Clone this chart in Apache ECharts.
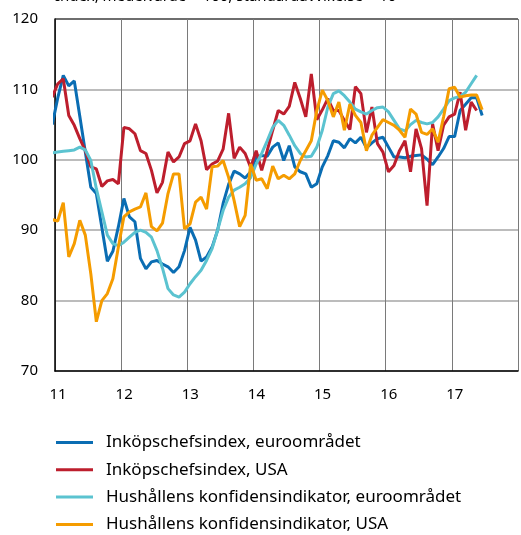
<!DOCTYPE html>
<html>
<head>
<meta charset="utf-8">
<script src="https://cdn.jsdelivr.net/npm/echarts@6/dist/echarts.min.js"></script>
<style>
  html, body { margin: 0; padding: 0; background: #fff; }
  #chart { width: 521px; height: 535px; }
</style>
</head>
<body>
<div id="chart"></div>
<script>
// månadsdata, första värdet = dec 2010
var startYear = 2010, startMonth = 11;
var yearTicks = ['11', '12', '13', '14', '15', '16', '17'];

var seriesNames = [
  'Inköpschefsindex, euroområdet',
  'Inköpschefsindex, USA',
  'Hushållens konfidensindikator, euroområdet',
  'Hushållens konfidensindikator, USA'
];
var colors = ['#0a6db3', '#bd1e2d', '#5bc3d0', '#f59c00'];

var pmiEuro = [105.0, 108.8, 112.0, 110.5, 111.2, 106.2, 101.1, 96.1, 95.2, 90.4, 85.6, 87.0, 90.5,
  94.5, 91.9, 91.2, 86.0, 84.5, 85.5, 85.7, 85.2, 84.8, 84.0, 84.8, 87.1,
  90.4, 88.6, 85.6, 86.2, 87.6, 90.0, 93.8, 96.5, 98.4, 98.0, 97.4, 98.3,
  100.4, 100.6, 100.5, 101.8, 102.4, 99.9, 102.0, 99.0, 98.3, 98.0, 96.1, 96.6,
  99.0, 100.6, 102.7, 102.5, 101.7, 103.0, 102.4, 103.2, 101.7, 102.4, 103.0, 103.2,
  101.8, 100.4, 100.4, 100.3, 100.5, 100.6, 100.7, 100.1, 99.3, 100.4, 101.6, 103.3,
  103.3, 107.0, 107.9, 108.8, 108.8, 106.3];

var pmiUsa = [108.9, 110.8, 111.5, 106.3, 104.9, 103.0, 101.3, 99.0, 98.7, 96.2, 97.0, 97.2, 96.6,
  104.6, 104.4, 103.7, 101.3, 100.9, 98.5, 95.3, 96.8, 101.1, 99.7, 100.4, 102.3,
  102.7, 105.1, 102.7, 98.6, 99.4, 99.8, 101.5, 106.6, 100.2, 101.8, 100.9, 98.9,
  101.3, 98.5, 101.3, 104.2, 107.0, 106.5, 107.6, 111.0, 108.7, 106.1, 112.2, 105.7,
  107.1, 108.7, 107.0, 107.0, 105.6, 104.3, 110.4, 109.4, 103.9, 107.5, 102.3, 101.1,
  98.3, 99.2, 101.3, 102.7, 98.3, 104.4, 101.6, 93.5, 105.1, 101.3, 104.9, 106.1,
  106.5, 109.6, 104.2, 108.2, 107.0];

var konfEuro = [101.0, 101.1, 101.2, 101.3, 101.4, 101.8, 101.4, 99.9, 95.9, 92.6, 89.3, 88.1, 87.8,
  88.3, 89.0, 89.7, 90.0, 89.7, 89.0, 87.1, 84.6, 81.7, 80.8, 80.5, 81.2,
  82.4, 83.4, 84.3, 85.7, 87.4, 90.0, 92.8, 94.7, 95.7, 96.1, 96.6, 97.5,
  99.4, 100.9, 102.7, 104.6, 105.6, 104.9, 103.5, 102.0, 100.9, 100.4, 100.5, 101.8,
  104.2, 107.5, 109.4, 109.8, 109.1, 108.2, 107.2, 106.8, 106.5, 107.0, 107.4, 107.5,
  106.8, 105.6, 104.4, 104.1, 105.0, 105.6, 105.3, 105.1, 105.3, 106.1, 107.2, 108.4,
  108.8, 109.0, 109.6, 110.8, 112.0];

var konfUsa = [91.5, 91.3, 93.9, 86.2, 88.1, 91.4, 89.3, 83.8, 77.0, 80.0, 81.0, 83.1, 87.6,
  91.9, 92.6, 93.0, 93.3, 95.3, 90.5, 89.9, 91.0, 95.2, 98.0, 98.0, 90.2,
  90.9, 94.0, 94.7, 93.0, 99.0, 99.1, 99.9, 97.5, 94.2, 90.5, 92.1, 99.4,
  97.1, 97.3, 95.9, 99.1, 97.3, 97.8, 97.3, 98.0, 99.9, 101.3, 102.7, 107.0,
  109.9, 108.4, 106.1, 108.2, 104.2, 107.9, 106.3, 105.3, 101.3, 103.5, 104.6, 105.7,
  105.3, 104.9, 104.2, 103.2, 107.2, 106.5, 103.9, 103.6, 104.4, 102.5, 106.1, 110.1,
  110.3, 108.9, 109.1, 109.2, 109.2, 107.1];

// mitt i månaden på en tidsaxel i år
function toPoints(values) {
  return values.map(function (v, i) {
    var m = startMonth + i;
    return [startYear + (m + 0.5) / 12, v];
  });
}

var myChart = echarts.init(document.getElementById('chart'));
var allData = [pmiEuro, pmiUsa, konfEuro, konfUsa];

var option = {
  animation: false,
  color: colors,
  textStyle: { fontFamily: 'Noto Sans' },
  graphic: [{
    type: 'text',
    left: 55,
    top: -11,
    style: {
      text: 'Index, medelvärde = 100, standardavvikelse = 10',
      font: '15px "Noto Sans"',
      fill: '#000'
    }
  }],
  grid: { left: 55, top: 19, width: 476, height: 352 },
  legend: {
    orient: 'vertical',
    left: 56,
    top: 434,
    height: 110,
    padding: 0,
    icon: 'rect',
    itemWidth: 37,
    itemHeight: 3,
    itemGap: 10.3,
    textStyle: { fontSize: 17, color: '#000', lineHeight: 17, padding: [0, 0, 0, 8] },
    data: seriesNames
  },
  xAxis: {
    type: 'value',
    min: 2011,
    max: 2018,
    interval: 1,
    axisLine: { lineStyle: { color: '#000', width: 1.5 } },
    axisTick: { show: false },
    axisLabel: {
      fontSize: 15,
      color: '#000',
      margin: 16,
      padding: [0, 0, 0, 6],
      formatter: function (v) {
        var idx = Math.round(v) - 2011;
        return (Math.abs(v - Math.round(v)) < 1e-6 && yearTicks[idx]) ? yearTicks[idx] : '';
      }
    },
    splitLine: { show: true, lineStyle: { color: '#7a7a7a', width: 1 } }
  },
  yAxis: {
    type: 'value',
    min: 70,
    max: 120,
    interval: 10,
    axisLine: { show: true, lineStyle: { color: '#000', width: 1.5 } },
    axisTick: { show: false },
    axisLabel: { fontSize: 15, color: '#000', margin: 17 },
    splitLine: {
      lineStyle: {
        color: ['#bcbcbc', '#bcbcbc', '#bcbcbc', '#bcbcbc', '#bcbcbc', '#6e6e6e'],
        width: 2
      }
    }
  },
  series: seriesNames.map(function (name, i) {
    return {
      name: name,
      type: 'line',
      data: toPoints(allData[i]),
      showSymbol: false,
      symbol: 'none',
      clip: true,
      lineStyle: { width: 3, color: colors[i] },
      itemStyle: { color: colors[i] }
    };
  })
};

myChart.setOption(option);
</script>
</body>
</html>
